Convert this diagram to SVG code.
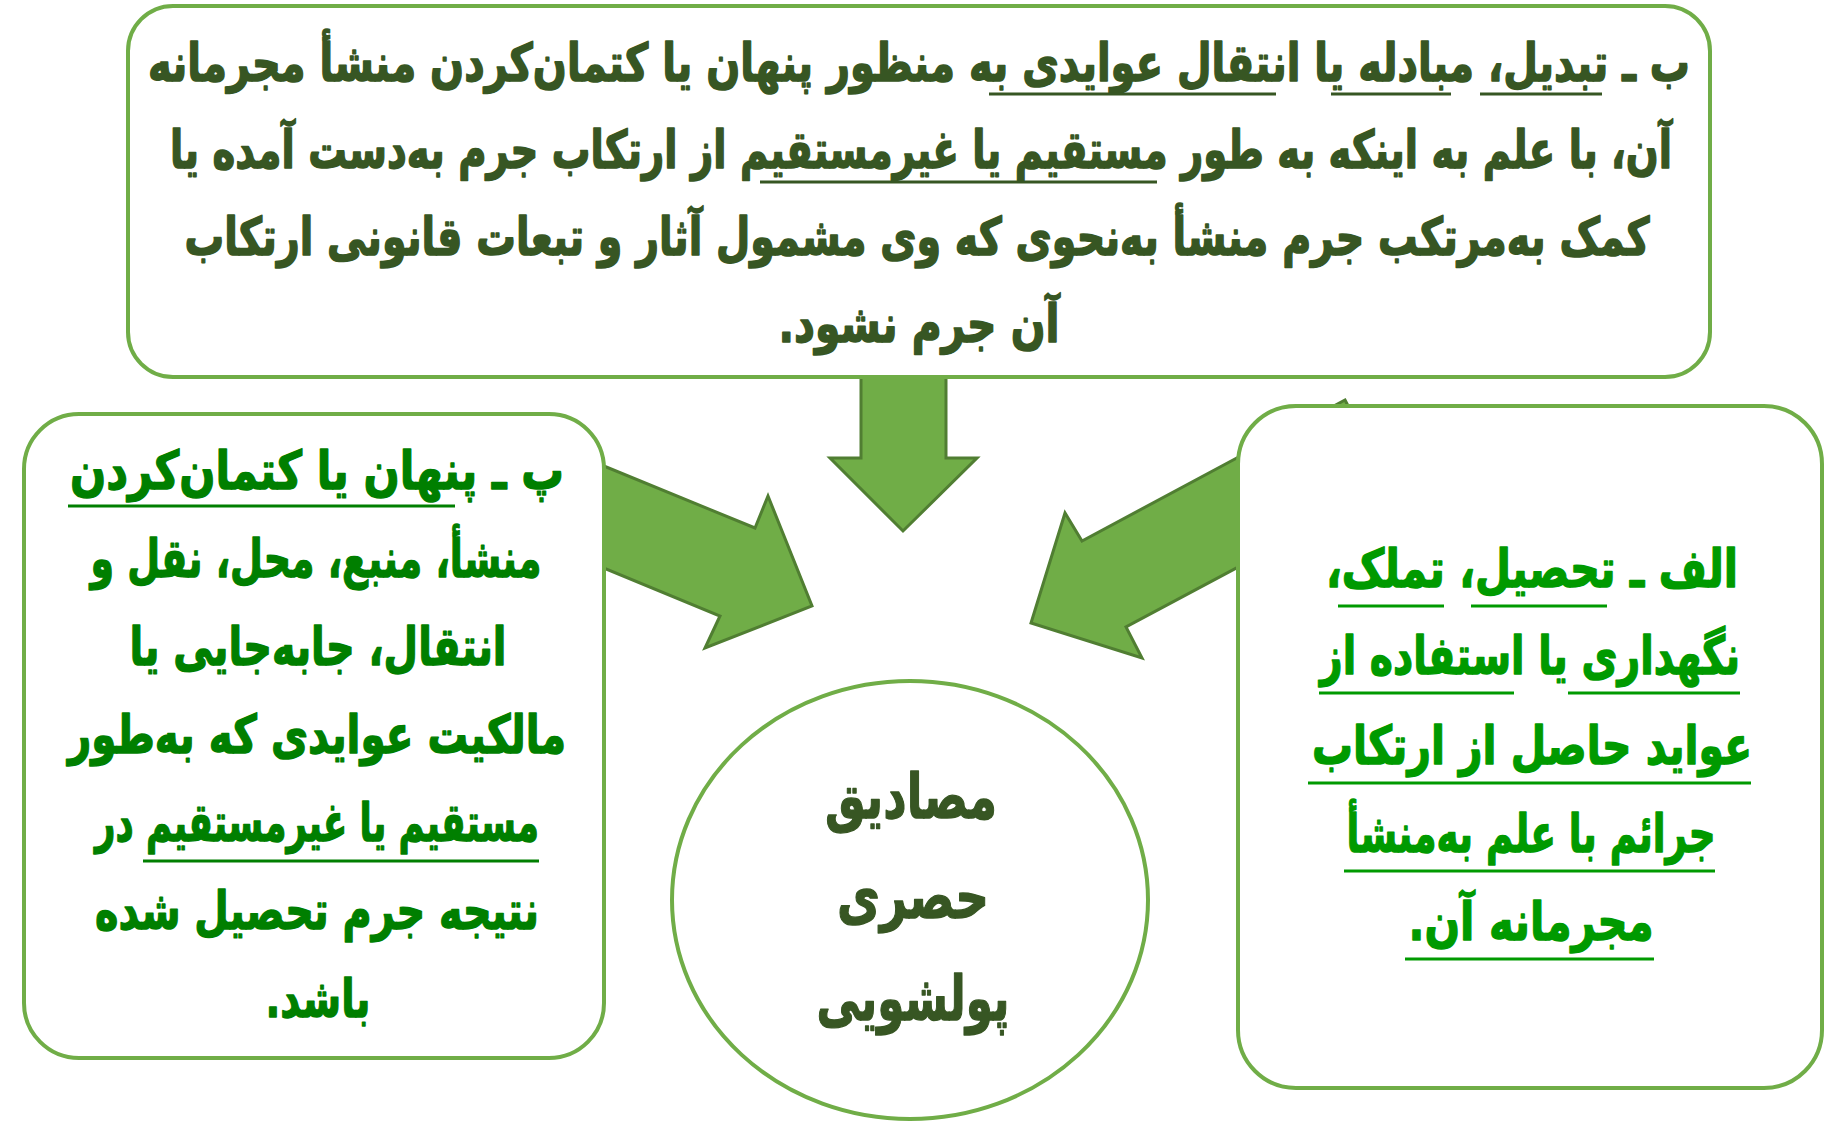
<svg xmlns="http://www.w3.org/2000/svg" width="1845" height="1121" viewBox="0 0 1845 1121">
<style>
.box{fill:#ffffff;stroke:#70AD47;stroke-width:4}
.arrow{fill:#70AD47;stroke:#507E32;stroke-width:3;stroke-linejoin:miter}
.t{font-family:'DejaVu Sans',sans-serif;font-weight:bold;direction:rtl;text-anchor:middle;stroke-width:1.1;stroke-linejoin:round}
.top{font-size:36px;fill:#375623;stroke:#375623}
.left{font-size:40px;fill:#007F00;stroke:#007F00}
.right{font-size:40px;fill:#009A00;stroke:#009A00}
.ctr{font-size:50px;fill:#375623;stroke:#375623}
.ul-top{stroke:#375623;stroke-width:3}
.ul-left{stroke:#007F00;stroke-width:3}
.ul-right{stroke:#009A00;stroke-width:3}
</style>
<rect width="1845" height="1121" fill="#ffffff"/>
<g id="connectors">
<polygon class="arrow" points="861,360 946,360 946,458 977,458 903,531 830,458 861,458"/>
<polygon class="arrow" points="560,448 755,528 768,496 812,606 705,648 720,616 560,550"/>
<polygon class="arrow" points="1345,400 1390,486 1126,627 1142,658 1031,623 1065,513 1082,541"/>
</g>
<g id="node-top">
<rect class="box" x="128" y="6" width="1582" height="371" rx="45"/>
<text class="t top" transform="translate(919 81) scale(1 1.45)" textLength="1542" lengthAdjust="spacingAndGlyphs">ب ـ تبدیل، مبادله یا انتقال عوایدی به منظور پنهان یا کتمان&#x200C;کردن منشأ مجرمانه</text>
<text class="t top" transform="translate(921 168) scale(1 1.45)" textLength="1502" lengthAdjust="spacingAndGlyphs">آن، با علم به اینکه به طور مستقیم یا غیرمستقیم از ارتکاب جرم به&#x200C;دست آمده یا</text>
<text class="t top" transform="translate(917 255) scale(1 1.45)" textLength="1465" lengthAdjust="spacingAndGlyphs">کمک به&#x200C;مرتکب جرم منشأ به&#x200C;نحوی که وی مشمول آثار و تبعات قانونی ارتکاب</text>
<text class="t top" transform="translate(919 342) scale(1 1.45)" textLength="281" lengthAdjust="spacingAndGlyphs">آن جرم نشود.</text>
<line class="ul-top" x1="1480" y1="94" x2="1602" y2="94"/>
<line class="ul-top" x1="1331" y1="94" x2="1451" y2="94"/>
<line class="ul-top" x1="989" y1="94" x2="1276" y2="94"/>
<line class="ul-top" x1="760" y1="182" x2="1157" y2="182"/>
</g>
<g id="node-left">
<rect class="box" x="24" y="414" width="580" height="644" rx="55"/>
<text class="t left" transform="translate(317 489) scale(1 1.33)" textLength="494" lengthAdjust="spacingAndGlyphs">پ ـ پنهان یا کتمان&#x200C;کردن</text>
<text class="t left" transform="translate(316 577) scale(1 1.33)" textLength="451" lengthAdjust="spacingAndGlyphs">منشأ، منبع، محل، نقل و</text>
<text class="t left" transform="translate(318 665) scale(1 1.33)" textLength="377" lengthAdjust="spacingAndGlyphs">انتقال، جابه&#x200C;جایی یا</text>
<text class="t left" transform="translate(317 753) scale(1 1.33)" textLength="498" lengthAdjust="spacingAndGlyphs">مالکیت عوایدی که به&#x200C;طور</text>
<text class="t left" transform="translate(317 841) scale(1 1.33)" textLength="444" lengthAdjust="spacingAndGlyphs">مستقیم یا غیرمستقیم در</text>
<text class="t left" transform="translate(317 929) scale(1 1.33)" textLength="444" lengthAdjust="spacingAndGlyphs">نتیجه جرم تحصیل شده</text>
<text class="t left" transform="translate(318 1017) scale(1 1.33)" textLength="105" lengthAdjust="spacingAndGlyphs">باشد.</text>
<line class="ul-left" x1="68" y1="506" x2="455" y2="506"/>
<line class="ul-left" x1="143" y1="861" x2="539" y2="861"/>
</g>
<g id="node-right">
<rect class="box" x="1238" y="406" width="584" height="682" rx="58"/>
<text class="t right" transform="translate(1532 587) scale(1 1.33)" textLength="412" lengthAdjust="spacingAndGlyphs">الف ـ تحصیل، تملک،</text>
<text class="t right" transform="translate(1530 674) scale(1 1.33)" textLength="420" lengthAdjust="spacingAndGlyphs">نگهداری یا استفاده از</text>
<text class="t right" transform="translate(1532 764) scale(1 1.33)" textLength="440" lengthAdjust="spacingAndGlyphs">عواید حاصل از ارتکاب</text>
<text class="t right" transform="translate(1531 852) scale(1 1.33)" textLength="369" lengthAdjust="spacingAndGlyphs">جرائم با علم به&#x200C;منشأ</text>
<text class="t right" transform="translate(1531 940) scale(1 1.33)" textLength="245" lengthAdjust="spacingAndGlyphs">مجرمانه آن.</text>
<line class="ul-right" x1="1471" y1="606" x2="1607" y2="606"/>
<line class="ul-right" x1="1338" y1="606" x2="1444" y2="606"/>
<line class="ul-right" x1="1568" y1="693" x2="1740" y2="693"/>
<line class="ul-right" x1="1319" y1="693" x2="1514" y2="693"/>
<line class="ul-right" x1="1308" y1="783" x2="1751" y2="783"/>
<line class="ul-right" x1="1344" y1="871" x2="1715" y2="871"/>
<line class="ul-right" x1="1405" y1="959" x2="1654" y2="959"/>
</g>
<g id="node-center">
<ellipse class="box" cx="910" cy="900" rx="238" ry="219"/>
<text class="t ctr" transform="translate(911 818) scale(1 1.25)" textLength="172" lengthAdjust="spacingAndGlyphs">مصادیق</text>
<text class="t ctr" transform="translate(913 918) scale(1 1.25)" textLength="152" lengthAdjust="spacingAndGlyphs">حصری</text>
<text class="t ctr" transform="translate(913 1020) scale(1 1.25)" textLength="193" lengthAdjust="spacingAndGlyphs">پولشویی</text>
</g>
</svg>
